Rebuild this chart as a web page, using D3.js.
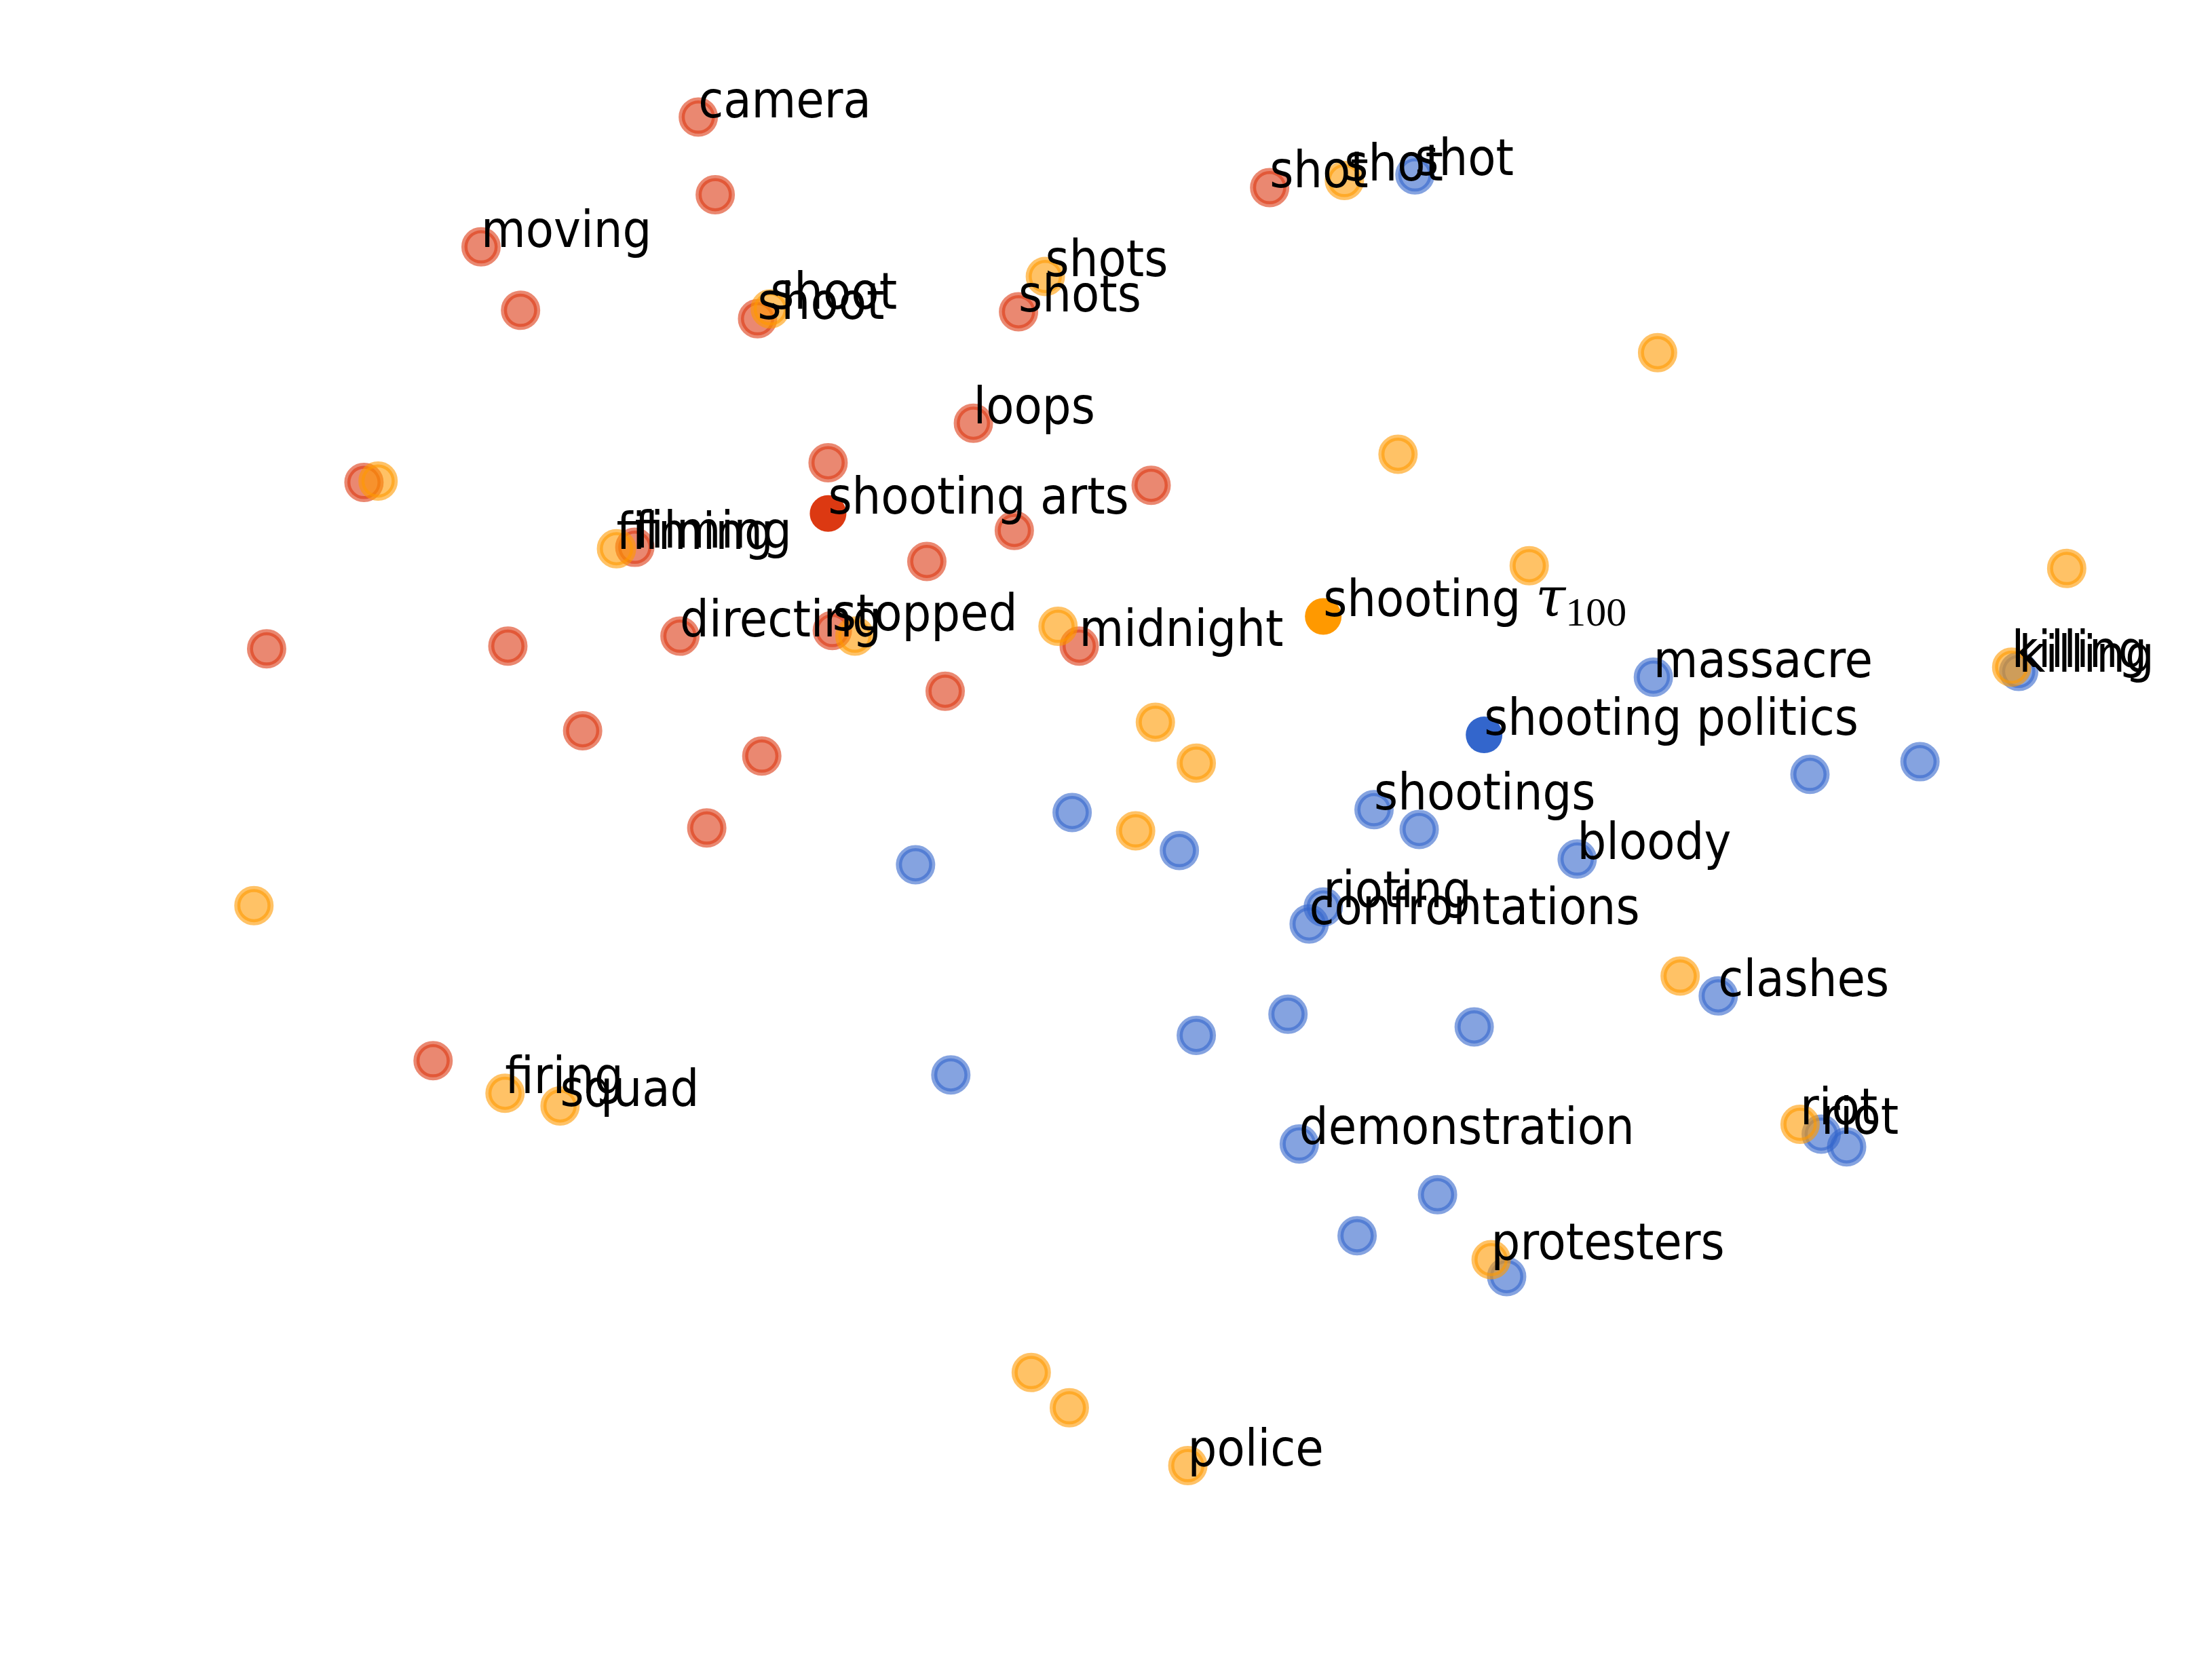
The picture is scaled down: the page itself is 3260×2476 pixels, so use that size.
<!DOCTYPE html>
<html>
<head>
<meta charset="utf-8">
<script src="https://cdn.jsdelivr.net/npm/d3@7"></script>
<style>
  html, body { margin: 0; padding: 0; background: #fff; }
  svg { display: block; }
  .label {
    font-family: "DejaVu Sans Condensed", "DejaVu Sans", sans-serif;
    font-stretch: condensed;
    font-size: 75px;
    fill: #000;
  }
</style>
</head>
<body>
<svg id="chart" width="3260" height="2476"></svg>
<script>
// 2-d embedding of neighbour words, one group per sense of "shooting"
const artsX = [4.95, 5.07, 3.41, 3.69, 5.37, 7.22, 9.00, 6.90, 5.87, 2.58, 8.16, 4.50,
  7.19, 6.57, 4.82, 5.90, 7.65, 1.89, 3.60, 6.70, 4.13, 5.40, 5.01, 3.07];
const artsY = [11.08, 10.53, 10.16, 9.71, 9.65, 9.70, 10.58, 8.91, 8.63, 8.49, 8.47, 8.03,
  8.15, 7.93, 7.40, 7.44, 7.33, 7.31, 7.33, 7.01, 6.73, 6.55, 6.04, 4.39];
const artsWords = ["camera", "", "moving", "", "shoot", "shots", "shot", "loops", "", "", "", "filming",
  "", "", "directing", "stopped", "midnight", "", "", "", "", "", "", ""];

const tauX = [9.53, 7.41, 5.46, 11.75, 9.91, 2.68, 4.37, 10.84, 14.65, 6.06, 7.50, 14.26,
  8.19, 8.48, 8.05, 1.80, 11.91, 3.58, 3.97, 12.76, 10.57, 7.31, 7.58, 8.42];
const tauY = [10.63, 9.95, 9.72, 9.41, 8.69, 8.50, 8.02, 7.90, 7.88, 7.40, 7.47, 7.18,
  6.79, 6.50, 6.02, 5.49, 4.99, 4.16, 4.07, 3.94, 2.98, 2.18, 1.93, 1.52];
const tauWords = ["shot", "shots", "shoot", "", "", "", "filming", "", "", "", "", "killing",
  "", "", "", "", "", "firing", "squad", "riot", "protesters", "", "", "police"];

const polX = [10.03, 11.72, 14.31, 12.83, 13.61, 7.60, 6.49, 8.36, 9.74, 10.06, 11.18, 9.38,
  9.28, 12.18, 9.13, 8.48, 10.45, 6.74, 9.21, 12.91, 13.09, 10.19, 9.62, 10.68];
const polY = [10.67, 7.11, 7.15, 6.42, 6.51, 6.15, 5.78, 5.88, 6.17, 6.03, 5.82, 5.48,
  5.36, 4.85, 4.72, 4.57, 4.63, 4.29, 3.80, 3.87, 3.78, 3.44, 3.15, 2.86];
const polWords = ["shot", "massacre", "killing", "", "", "", "", "", "shootings", "", "bloody", "rioting",
  "confrontations", "clashes", "", "", "", "", "demonstration", "riot", "", "", "", ""];

// the three sense centroids
const senseX = [5.87, 9.38, 10.52];
const senseY = [8.27, 7.54, 6.70];
const senseNames = ["shooting arts", "shooting", "shooting politics"];
const senseColors = ["#dc3912", "#ff9900", "#3366cc"];

const width = 3260, height = 2476;
const svg = d3.select("#chart");

const x = d3.scaleLinear().domain([0, 15.68]).range([0, width]);
const y = d3.scaleLinear().domain([0, 11.91]).range([height, 0]);

const zip = (xs, ys, ws) => xs.map((v, i) => ({ x: v, y: ys[i], word: ws[i] }));

const groups = [
  { name: "politics", color: senseColors[2], pts: zip(polX, polY, polWords) },
  { name: "arts", color: senseColors[0], pts: zip(artsX, artsY, artsWords) },
  { name: "tau", color: senseColors[1], pts: zip(tauX, tauY, tauWords) },
];

const dots = svg.append("g");
groups.forEach((g) => {
  dots.append("g")
    .attr("class", "dots-" + g.name)
    .selectAll("circle")
    .data(g.pts)
    .join("circle")
    .attr("cx", (d) => x(d.x))
    .attr("cy", (d) => y(d.y))
    .attr("r", 24.5)
    .attr("fill", g.color)
    .attr("fill-opacity", 0.6)
    .attr("stroke", g.color)
    .attr("stroke-opacity", 0.6)
    .attr("stroke-width", 9);
});

const senses = senseX.map((v, i) => ({ x: v, y: senseY[i], word: senseNames[i], color: senseColors[i] }));
dots.append("g")
  .selectAll("circle")
  .data(senses)
  .join("circle")
  .attr("cx", (d) => x(d.x))
  .attr("cy", (d) => y(d.y))
  .attr("r", 27)
  .attr("fill", (d) => d.color);

// labels sit with their baseline on the point, left aligned
const labels = svg.append("g");
groups.forEach((g) => {
  labels.append("g")
    .selectAll("text")
    .data(g.pts.filter((d) => d.word))
    .join("text")
    .attr("class", "label")
    .attr("x", (d) => x(d.x))
    .attr("y", (d) => y(d.y))
    .text((d) => d.word);
});

labels.append("g")
  .selectAll("text")
  .data(senses)
  .join("text")
  .attr("class", "label")
  .attr("x", (d) => x(d.x))
  .attr("y", (d) => y(d.y))
  .each(function (d, i) {
    const t = d3.select(this);
    if (i === 1) {
      t.append("tspan").text(d.word + " ");
      t.append("tspan")
        .attr("font-family", "'DejaVu Serif', 'Liberation Serif', serif")
        .attr("font-style", "italic")
        .attr("font-stretch", "normal")
        .attr("font-size", "80px")
        .text("τ");
      t.append("tspan")
        .attr("font-family", "'Liberation Serif', 'DejaVu Serif', serif")
        .attr("font-stretch", "normal")
        .attr("font-size", "60px")
        .attr("dy", 14)
        .text("100");
    } else {
      t.text(d.word);
    }
  });
</script>
</body>
</html>
